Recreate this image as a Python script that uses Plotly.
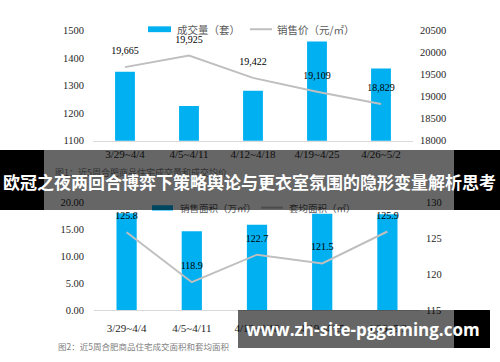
import plotly.graph_objects as go

W, H = 500, 362

# ---------------- data ----------------
weeks = ["3/29~4/4", "4/5~4/11", "4/12~4/18", "4/19~4/25", "4/26~5/2"]
deals = [1350, 1226, 1281, 1459, 1361]            # 成交量（套）
price = [19665, 19925, 19422, 19109, 18829]       # 销售价（元/㎡）
area = [17.9, 14.6, 15.8, 17.8, 17.7]             # 销售面积（万㎡）
avg_area = [125.8, 118.9, 122.7, 121.5, 125.9]    # 套均面积（㎡）

left_ticks_top = [1100, 1200, 1300, 1400, 1500]
right_ticks_top = [18000, 18500, 19000, 19500, 20000, 20500]
left_ticks_bot = [0, 5, 10, 15, 20]
right_ticks_bot = [115, 120, 125, 130]

BLUE = "#00b0f0"
GREY = "#bfbfbf"
SERIF = "Liberation Serif"
CJK = "Noto Sans CJK SC"


def px(x):
    return x / W


def py(y):
    return 1 - y / H


fig = go.Figure()

fig.add_trace(go.Bar(x=weeks, y=deals, marker=dict(color=BLUE, line=dict(width=0)),
                     width=0.31, xaxis="x", yaxis="y", showlegend=False, name="成交量（套）"))
fig.add_trace(go.Scatter(x=weeks, y=price, mode="lines+markers+text",
                         line=dict(color=GREY, width=2),
                         marker=dict(size=15, color="rgba(0,0,0,0)"),
                         texttemplate="%{y:,}", textposition="top center",
                         textfont=dict(family=SERIF, size=10, color="#000000"),
                         xaxis="x", yaxis="y2", showlegend=False, name="销售价（元/㎡）"))
fig.add_trace(go.Bar(x=weeks, y=area, marker=dict(color=BLUE, line=dict(width=0)),
                     width=0.31, xaxis="x2", yaxis="y3", showlegend=False, name="销售面积（万㎡）"))
fig.add_trace(go.Scatter(x=weeks, y=avg_area, mode="lines+markers+text",
                         line=dict(color=GREY, width=2),
                         marker=dict(size=15, color="rgba(0,0,0,0)"),
                         texttemplate="%{y:.1f}", textposition="top center",
                         textfont=dict(family=SERIF, size=10, color="#000000"),
                         xaxis="x2", yaxis="y4", showlegend=False, name="套均面积（㎡）"))

tickfont = dict(family=SERIF, size=10.5, color="#262626")
xtickfont = dict(family=SERIF, size=11, color="#262626")

fig.update_layout(
    width=W, height=H, margin=dict(l=0, r=0, t=0, b=0),
    paper_bgcolor="white", plot_bgcolor="white",
    xaxis=dict(domain=[px(93), px(413)], anchor="y", type="category", showline=True,
               linecolor="#d9d9d9", linewidth=1, showgrid=False, ticks="", tickfont=xtickfont,
               ticklabelstandoff=3),
    yaxis=dict(domain=[py(140), py(26)], range=[1100, 1500], tickvals=left_ticks_top,
               showgrid=False, zeroline=False, showline=False, tickfont=tickfont,
               ticklabelstandoff=8),
    yaxis2=dict(overlaying="y", anchor="x", side="right", range=[18000, 20500],
                tickvals=right_ticks_top, tickformat="d", showgrid=False, zeroline=False,
                showline=False, tickfont=tickfont, ticklabelstandoff=6),
    xaxis2=dict(domain=[px(94), px(420)], anchor="y3", type="category", showline=True,
                linecolor="#d9d9d9", linewidth=1, showgrid=False, ticks="", tickfont=xtickfont,
                ticklabelstandoff=7),
    yaxis3=dict(domain=[py(315), py(203)], range=[0, 20], tickvals=left_ticks_bot,
                tickformat=".2f", showgrid=False, zeroline=False, showline=False,
                tickfont=tickfont, ticklabelstandoff=8),
    yaxis4=dict(overlaying="y3", anchor="x2", side="right", range=[115, 130],
                tickvals=right_ticks_bot, showgrid=False, zeroline=False, showline=False,
                tickfont=tickfont, ticklabelstandoff=5),
)

# legend symbols (shapes, below the banner annotations)
shapes = [
    dict(type="rect", xref="paper", yref="paper", x0=px(148), x1=px(171), y0=py(28), y1=py(22),
         fillcolor=BLUE, line=dict(width=0)),
    dict(type="line", xref="paper", yref="paper", x0=px(250), x1=px(272), y0=py(25), y1=py(25),
         line=dict(color=GREY, width=2)),
    dict(type="rect", xref="paper", yref="paper", x0=px(152), x1=px(173), y0=py(212), y1=py(206.5),
         fillcolor=BLUE, line=dict(width=0)),
    dict(type="line", xref="paper", yref="paper", x0=px(261), x1=px(283), y0=py(209), y1=py(209),
         line=dict(color=GREY, width=2)),
]
fig.update_layout(shapes=shapes)


def text_ann(x, y, text, size, color, family=CJK, xanchor="left", bold=False):
    return dict(x=px(x), y=py(y), xref="paper", yref="paper", xanchor=xanchor, yanchor="middle",
                text=f"<b>{text}</b>" if bold else text, showarrow=False,
                font=dict(family=family, size=size, color=color))


def box_ann(x0, y0, w, h, color):
    return dict(x=px(x0), y=py(y0), xref="paper", yref="paper", xanchor="left", yanchor="top",
                text=" ", showarrow=False, width=w, height=h, bgcolor=color, borderpad=0,
                borderwidth=0, font=dict(size=1))


anns = [
    text_ann(175, 25, "成交量（套）", 10.5, "#595959"),
    text_ann(275, 25, "销售价（元/㎡）", 10.5, "#595959"),
    text_ann(53, 173, "图1：近5周合肥商品住宅成交量和成交均价", 9, "#7f7f7f"),
    text_ann(178, 209, "销售面积（万㎡）", 9.5, "#595959"),
    text_ann(287, 209, "套均面积（㎡）", 9.5, "#595959"),
    text_ann(56, 352, "图2：近5周合肥商品住宅成交面积和套均面积", 8.5, "#7f7f7f"),
    # banner
    box_ann(0, 150, 44, 60, "#000000"),
    box_ann(44, 150, 410, 60, "rgba(0,0,0,0.6)"),
    box_ann(454, 150, 46, 60, "#000000"),
    text_ann(249, 182, "欧冠之夜两回合博弈下策略舆论与更衣室氛围的隐形变量解析思考", 17, "#ffffff",
             xanchor="center", bold=True),
    # watermark
    box_ann(238, 315, 216, 37.5, "rgba(0,0,0,0.6)"),
    box_ann(454, 315, 36, 37.5, "#000000"),
    text_ann(363, 335, "www.zh-site-pggaming.com", 17, "#ffffff", family="Open Sans",
             xanchor="center", bold=True),
]
fig.update_layout(annotations=anns)

fig.write_html("out.html", config={"displayModeBar": False},
               post_script="document.body.style.margin='0px';"
                           "document.body.style.padding='0px';")
